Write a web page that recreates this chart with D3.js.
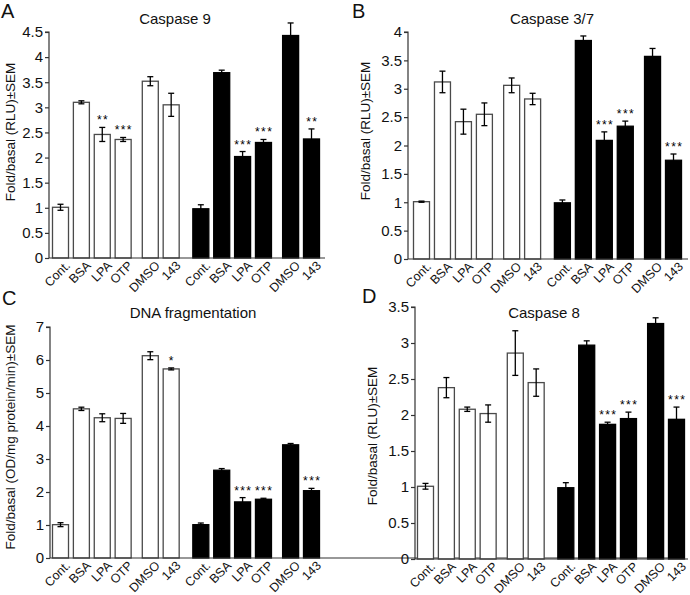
<!DOCTYPE html>
<html><head><meta charset="utf-8">
<script src="https://cdn.jsdelivr.net/npm/d3@7"></script>
<style>
html,body{margin:0;padding:0;background:#fff;}
svg{display:block;font-family:"Liberation Sans",Arial,Helvetica,sans-serif;}
</style></head>
<body><svg id="c" width="690" height="595"></svg>
<script>
const categories = ["Cont.","BSA","LPA","OTP","DMSO","143"];
const panelLetters = ["A","B","C","D"];
const titles = ["Caspase 9","Caspase 3/7","DNA fragmentation","Caspase 8"];
const yLabels = ["Fold/basal (RLU)±SEM","Fold/basal (RLU)±SEM","Fold/basal (OD/mg protein/min)±SEM","Fold/basal (RLU)±SEM"];
const yMax = [4.5, 4, 7, 3.5];
const yStep = [0.5, 0.5, 1, 0.5];

const cas9White = [1.01,3.10,2.46,2.36,3.52,3.05];
const cas9WhiteErr = [0.06,0.03,0.14,0.04,0.09,0.23];
const cas9Black = [0.98,3.69,2.02,2.30,4.43,2.37];
const cas9BlackErr = [0.08,0.05,0.10,0.06,0.25,0.20];
const cas9WhiteStars = ["","","**","***","",""];
const cas9BlackStars = ["","","***","***","","**"];

const cas37White = [1.01,3.12,2.42,2.55,3.06,2.82];
const cas37WhiteErr = [0.01,0.19,0.22,0.20,0.13,0.10];
const cas37Black = [0.99,3.85,2.09,2.34,3.57,1.74];
const cas37BlackErr = [0.05,0.08,0.15,0.09,0.14,0.11];
const cas37WhiteStars = ["","","","","",""];
const cas37BlackStars = ["","","***","***","","***"];

const dnaWhite = [1.01,4.52,4.25,4.23,6.13,5.73];
const dnaWhiteErr = [0.06,0.05,0.12,0.15,0.12,0.03];
const dnaBlack = [1.01,2.66,1.70,1.78,3.43,2.04];
const dnaBlackErr = [0.05,0.05,0.13,0.03,0.04,0.07];
const dnaWhiteStars = ["","","","","","*"];
const dnaBlackStars = ["","","***","***","","***"];

const cas8White = [1.01,2.38,2.08,2.02,2.86,2.45];
const cas8WhiteErr = [0.04,0.14,0.03,0.12,0.31,0.19];
const cas8Black = [0.99,2.97,1.87,1.95,3.27,1.94];
const cas8BlackErr = [0.07,0.06,0.03,0.09,0.08,0.17];
const cas8WhiteStars = ["","","","","",""];
const cas8BlackStars = ["","","***","***","","***"];

const panelData = [
  {white:cas9White, whiteErr:cas9WhiteErr, black:cas9Black, blackErr:cas9BlackErr, ws:cas9WhiteStars, bs:cas9BlackStars},
  {white:cas37White, whiteErr:cas37WhiteErr, black:cas37Black, blackErr:cas37BlackErr, ws:cas37WhiteStars, bs:cas37BlackStars},
  {white:dnaWhite, whiteErr:dnaWhiteErr, black:dnaBlack, blackErr:dnaBlackErr, ws:dnaWhiteStars, bs:dnaBlackStars},
  {white:cas8White, whiteErr:cas8WhiteErr, black:cas8Black, blackErr:cas8BlackErr, ws:cas8WhiteStars, bs:cas8BlackStars}
];

// layout (pixels)
const layout = [
  {axisX:49, yTop:32, yBot:258, xEnd:325, first:52, last:303, letter:[1,18], title:[175,24], ylab:[15,132]},
  {axisX:408, yTop:32, yBot:259, xEnd:688, first:413, last:665, letter:[352,18], title:[552,24], ylab:[370,131]},
  {axisX:50, yTop:327, yBot:558, xEnd:670, first:52, last:303, letter:[2,305], title:[193,318], ylab:[15,437]},
  {axisX:415, yTop:307, yBot:559, xEnd:688, first:417, last:668, letter:[362,303], title:[544,318], ylab:[377,436]}
];
const barW = 17;
const groupGaps = [0.3, 0.42, 0.3];

// slot positions: Cont BSA LPA OTP | DMSO 143 || Cont BSA LPA OTP | DMSO 143
const slots = [];
{
  let p = 0;
  const sizes = [4,2,4,2];
  sizes.forEach((s,gi)=>{
    for(let k=0;k<s;k++){ slots.push(p); p+=1; }
    if(gi<3) p += groupGaps[gi];
  });
}

const svg = d3.select("#c");

panelData.forEach((pd, pi) => {
  const L = layout[pi];
  const g = svg.append("g");
  const y = d3.scaleLinear().domain([0, yMax[pi]]).range([L.yBot, L.yTop]);
  const x = d3.scaleLinear().domain([0, slots[slots.length-1]]).range([L.first, L.last]);

  const bars = [];
  categories.forEach((c,i)=>bars.push({cat:c, v:pd.white[i], e:pd.whiteErr[i], s:pd.ws[i], slot:slots[i], black:false}));
  categories.forEach((c,i)=>bars.push({cat:c, v:pd.black[i], e:pd.blackErr[i], s:pd.bs[i], slot:slots[i+6], black:true}));

  // bars
  g.selectAll("rect.bar").data(bars).enter().append("rect")
    .attr("x", d=>x(d.slot)+0.5)
    .attr("y", d=>y(d.v))
    .attr("width", barW-1)
    .attr("height", d=>y(0)-y(d.v))
    .attr("fill", d=>d.black?"#000":"#fff")
    .attr("stroke", d=>d.black?"#000":"#4a4a4a")
    .attr("stroke-width", 1.3);

  // error bars
  const eb = g.selectAll("g.err").data(bars).enter().append("g");
  eb.append("line")
    .attr("x1", d=>x(d.slot)+barW/2).attr("x2", d=>x(d.slot)+barW/2)
    .attr("y1", d=>y(d.v+d.e)).attr("y2", d=>y(d.v-d.e))
    .attr("stroke","#000").attr("stroke-width",1.3);
  eb.append("line")
    .attr("x1", d=>x(d.slot)+barW/2-3).attr("x2", d=>x(d.slot)+barW/2+3)
    .attr("y1", d=>y(d.v+d.e)).attr("y2", d=>y(d.v+d.e))
    .attr("stroke","#000").attr("stroke-width",1.3);
  eb.append("line")
    .attr("x1", d=>x(d.slot)+barW/2-3).attr("x2", d=>x(d.slot)+barW/2+3)
    .attr("y1", d=>y(d.v-d.e)).attr("y2", d=>y(d.v-d.e))
    .attr("stroke","#000").attr("stroke-width",1.3);

  // stars
  g.selectAll("text.star").data(bars.filter(d=>d.s)).enter().append("text")
    .attr("x", d=>x(d.slot)+barW/2+0.7)
    .attr("y", d=>y(d.v+d.e)-3)
    .attr("text-anchor","middle")
    .attr("font-size","12px")
    .attr("letter-spacing","1.4px")
    .attr("fill","#000")
    .text(d=>d.s);

  // y axis
  const ticks = d3.range(0, yMax[pi]+1e-9, yStep[pi]);
  const yAxis = d3.axisLeft(y).tickValues(ticks).tickSize(4).tickPadding(2).tickFormat(d=>String(+d.toFixed(2)));
  const ya = g.append("g").attr("transform",`translate(${L.axisX},0)`).call(yAxis);
  ya.select(".domain").attr("stroke","#333").attr("stroke-width",1.2).attr("d",`M-4,${L.yTop}H0V${L.yBot}`);
  ya.selectAll(".tick line").attr("stroke","#333").attr("stroke-width",1.2);
  ya.selectAll(".tick text").attr("font-size","15px").attr("fill","#111").attr("font-family","'Liberation Sans',Arial,sans-serif");

  // x axis line
  g.append("line").attr("x1",L.axisX).attr("x2",L.xEnd).attr("y1",L.yBot).attr("y2",L.yBot)
    .attr("stroke","#333").attr("stroke-width",1.2);

  // category labels
  g.selectAll("text.cat").data(bars).enter().append("text")
    .attr("transform", d=>`translate(${x(d.slot)+barW/2+4},${L.yBot+2}) rotate(-45)`)
    .attr("text-anchor","end")
    .attr("dy","0.72em")
    .attr("font-size","12.5px")
    .attr("fill","#111")
    .text(d=>d.cat);

  // y label
  g.append("text")
    .attr("transform",`translate(${L.ylab[0]},${L.ylab[1]}) rotate(-90)`)
    .attr("text-anchor","middle")
    .attr("font-size","13.5px")
    .attr("fill","#111")
    .text(yLabels[pi]);

  // title
  g.append("text").attr("x",L.title[0]).attr("y",L.title[1])
    .attr("text-anchor","middle").attr("font-size","15px").attr("fill","#111")
    .text(titles[pi]);

  // panel letter
  g.append("text").attr("x",L.letter[0]).attr("y",L.letter[1])
    .attr("font-size","20px").attr("fill","#111")
    .text(panelLetters[pi]);
});
</script>
</body></html>
